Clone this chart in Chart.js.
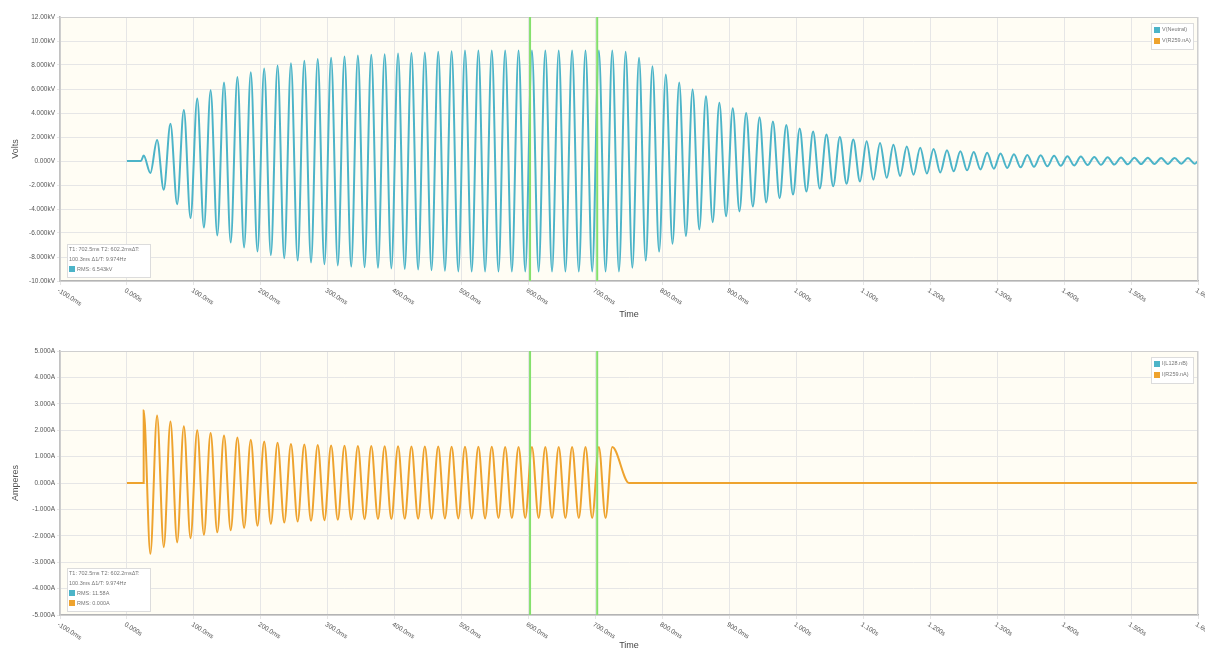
<!DOCTYPE html>
<html>
<head>
<meta charset="utf-8">
<script src="https://cdn.jsdelivr.net/npm/chart.js@4/dist/chart.umd.min.js"></script>
<style>
  html, body { margin: 0; padding: 0; background: #fff; overflow: hidden; }
  canvas { position: absolute; left: 0; }
</style>
</head>
<body>
<canvas id="voltChart" width="1205" height="330" style="top:0"></canvas>
<canvas id="ampChart" width="1205" height="330" style="top:334px"></canvas>
<script>
// axis labels
const timeTickLabels = ['-100.0ms', '0.000s', '100.0ms', '200.0ms', '300.0ms', '400.0ms', '500.0ms', '600.0ms',
    '700.0ms', '800.0ms', '900.0ms', '1.000s', '1.100s', '1.200s', '1.300s', '1.400s', '1.500s', '1.600s'];
const voltTickLabels = ['-10.00kV', '-8.000kV', '-6.000kV', '-4.000kV', '-2.000kV', '0.000V',
    '2.000kV', '4.000kV', '6.000kV', '8.000kV', '10.00kV', '12.00kV'];
const ampTickLabels = ['-5.000A', '-4.000A', '-3.000A', '-2.000A', '-1.000A', '0.000A',
    '1.000A', '2.000A', '3.000A', '4.000A', '5.000A'];

// times (ms) of each peak / trough of the waveforms
const extremaMs = [
    25, 35, 45, 55, 65, 75, 85, 95, 105, 115, 125, 135, 145, 155, 165, 175,
    185, 195, 205, 215, 225, 235, 245, 255, 265, 275, 285, 295, 305, 315, 325, 335,
    345, 355, 365, 375, 385, 395, 405, 415, 425, 435, 445, 455, 465, 475, 485, 495,
    505, 515, 525, 535, 545, 555, 565, 575, 585, 595, 605, 615, 625, 635, 645, 655,
    665, 675, 685, 695, 705, 715, 725, 735, 745, 755, 765, 775, 785, 795, 805, 815,
    825, 835, 845, 855, 865, 875, 885, 895, 905, 915, 925, 935, 945, 955, 965, 975,
    985, 995, 1005, 1015, 1025, 1035, 1045, 1055, 1065, 1075, 1085, 1095, 1105, 1115, 1125, 1135,
    1145, 1155, 1165, 1175, 1185, 1195, 1205, 1215, 1225, 1235, 1245, 1255, 1265, 1275, 1285, 1295,
    1305, 1315, 1325, 1335, 1345, 1355, 1365, 1375, 1385, 1395, 1405, 1415, 1425, 1435, 1445, 1455,
    1465, 1475, 1485, 1495, 1505, 1515, 1525, 1535, 1545, 1555, 1565, 1575, 1585, 1595
];

// V(Neutral) in kV, peak / trough pairs
const neutralKV = [
    0.45, -1.0, 1.75, -2.4, 3.1, -3.6, 4.25, -4.75, 5.2, -5.55, 5.9, -6.2, 6.55, -6.8, 7.0, -7.2,
    7.4, -7.55, 7.7, -7.85, 7.95, -8.1, 8.15, -8.3, 8.35, -8.45, 8.5, -8.6, 8.6, -8.7, 8.7, -8.8,
    8.8, -8.85, 8.85, -8.9, 8.9, -8.95, 8.95, -9.0, 9.0, -9.05, 9.05, -9.1, 9.1, -9.15, 9.15, -9.2,
    9.2, -9.2, 9.2, -9.2, 9.2, -9.2, 9.2, -9.2, 9.2, -9.2, 9.2, -9.2,
    9.2, -9.2, 9.2, -9.2, 9.2, -9.2, 9.2, -9.2, 9.2, -9.2, 9.2, -9.2,
    9.1, -8.9, 8.6, -8.3, 7.9, -7.55, 7.2, -6.9, 6.55, -6.25, 5.95, -5.7, 5.4, -5.1, 4.85, -4.6, 4.4, -4.2, 4.0, -3.8,
    3.65, -3.45, 3.3, -3.1, 3.0, -2.8, 2.7, -2.55, 2.45, -2.3, 2.2, -2.1, 2.0, -1.9, 1.8, -1.7, 1.65, -1.55, 1.5, -1.4,
    1.35, -1.25, 1.2, -1.15, 1.1, -1.05, 1.0, -0.95, 0.9, -0.85, 0.82, -0.78, 0.75, -0.7, 0.68, -0.64, 0.62, -0.58, 0.56, -0.53,
    0.51, -0.48, 0.47, -0.44, 0.43, -0.4, 0.4, -0.37, 0.37, -0.34, 0.34, -0.32, 0.32, -0.3, 0.3, -0.28, 0.28, -0.26, 0.27, -0.25,
    0.26, -0.24, 0.25, -0.23, 0.24, -0.22
];

// I(R259.nA) in A, peak / trough pairs until the breaker opens
const r259Amps = [
    2.75, -2.68, 2.56, -2.43, 2.33, -2.25, 2.15, -2.09, 2.0, -1.96, 1.89, -1.87, 1.8, -1.79, 1.72, -1.7,
    1.64, -1.62, 1.57, -1.55, 1.52, -1.5, 1.48, -1.46, 1.46, -1.43, 1.44, -1.41, 1.42, -1.39, 1.41, -1.38,
    1.4, -1.37, 1.4, -1.36, 1.39, -1.36, 1.39, -1.35, 1.38, -1.35, 1.38, -1.35, 1.38, -1.34, 1.37, -1.34,
    1.37, -1.34, 1.37, -1.34, 1.37, -1.33, 1.36, -1.33, 1.36, -1.33, 1.36, -1.33, 1.36, -1.33, 1.36, -1.33,
    1.36, -1.33, 1.36, -1.33, 1.36, -1.33, 1.36
];

const cursorsMs = [602.2, 702.5];
const cursorInfo = ['T1: 702.5ms T2: 602.2ms\u0394T:', '100.3ms \u03941/T: 9.974Hz'];

const CYAN = '#4cb4c8';
const ORANGE = '#eea32e';
const FONT = "'Liberation Sans', Arial, sans-serif";

function toPoints(times, values) {
    return times.map((t, i) => ({ x: t, y: values[i] }));
}

const voltPoints = [{ x: 0, y: 0 }, { x: 21, y: 0 }]
    .concat(toPoints(extremaMs, neutralKV), [{ x: 1600, y: 0 }]);
const ampPoints = [{ x: 0, y: 0 }, { x: 25, y: 0 }]
    .concat(toPoints(extremaMs.slice(0, r259Amps.length), r259Amps), [{ x: 750, y: 0 }, { x: 1600, y: 0 }]);

function overlay(legend, rms) {
    return {
        id: 'overlay',
        beforeDraw(chart) {
            const { ctx, chartArea: a } = chart;
            ctx.save();
            ctx.fillStyle = '#fffdf4';
            ctx.fillRect(a.left, a.top, a.right - a.left, a.bottom - a.top);
            ctx.restore();
        },
        afterDatasetsDraw(chart) {
            const { ctx, chartArea: a, scales: { x } } = chart;
            ctx.save();
            ctx.strokeStyle = '#cfcfcf';
            ctx.lineWidth = 1;
            ctx.strokeRect(a.left, a.top + 0.5, a.right - a.left - 0.5, a.bottom - a.top);
            // cursors
            ctx.strokeStyle = '#84e06c';
            ctx.lineWidth = 2;
            cursorsMs.forEach(t => {
                const px = x.getPixelForValue(t);
                ctx.beginPath();
                ctx.moveTo(px, a.top);
                ctx.lineTo(px, a.bottom);
                ctx.stroke();
            });
            ctx.restore();
        },
        afterDraw(chart) {
            const { ctx, chartArea: a, scales: { x } } = chart;
            ctx.save();
            // slanted time labels
            ctx.fillStyle = '#555';
            ctx.font = '6.5px ' + FONT;
            ctx.textAlign = 'left';
            ctx.textBaseline = 'middle';
            x.ticks.forEach((tk, i) => {
                ctx.save();
                ctx.translate(x.getPixelForValue(tk.value) - 2, a.bottom + 9);
                ctx.rotate(32 * Math.PI / 180);
                ctx.fillText(timeTickLabels[i], 0, 0);
                ctx.restore();
            });

            // legend, top right
            ctx.font = '5.5px ' + FONT;
            const lx = a.right - 47, ly = a.top + 6;
            ctx.fillStyle = '#fff';
            ctx.fillRect(lx, ly, 42, 26);
            ctx.strokeStyle = '#dcdcdc';
            ctx.lineWidth = 1;
            ctx.strokeRect(lx + 0.5, ly + 0.5, 42, 26);
            legend.forEach((item, i) => {
                ctx.fillStyle = item.color;
                ctx.fillRect(lx + 3, ly + 4 + i * 11, 6, 6);
                ctx.fillStyle = '#777';
                ctx.fillText(item.label, lx + 11, ly + 6 + i * 11);
            });

            // cursor info box, bottom left
            const lines = cursorInfo.length + rms.length;
            const bh = lines * 10 + 3;
            const bx = a.left + 7, by = a.bottom - 4 - bh;
            ctx.fillStyle = '#fff';
            ctx.fillRect(bx, by, 83, bh);
            ctx.strokeStyle = '#dcdcdc';
            ctx.strokeRect(bx + 0.5, by + 0.5, 83, bh);
            ctx.fillStyle = '#777';
            cursorInfo.forEach((txt, i) => ctx.fillText(txt, bx + 2, by + 5 + i * 10));
            rms.forEach((item, i) => {
                const cy = by + 5 + (cursorInfo.length + i) * 10;
                ctx.fillStyle = item.color;
                ctx.fillRect(bx + 2, cy - 3, 6, 6);
                ctx.fillStyle = '#777';
                ctx.fillText(item.text, bx + 10, cy);
            });
            ctx.restore();
        }
    };
}

function waveChart(canvasId, cfg) {
    return new Chart(document.getElementById(canvasId), {
        type: 'line',
        data: { datasets: cfg.datasets },
        options: {
            responsive: false,
            animation: false,
            layout: { padding: { top: 17, right: 7, left: 0, bottom: 0 } },
            plugins: { legend: { display: false }, tooltip: { enabled: false } },
            elements: {
                point: { radius: 0 },
                line: { borderWidth: 2, cubicInterpolationMode: 'monotone' }
            },
            scales: {
                x: {
                    type: 'linear', min: -100, max: 1600,
                    ticks: { stepSize: 100, display: false },
                    grid: { color: '#e6e6e6', tickLength: 4 },
                    border: { color: '#b4b4b4', width: 1.5 },
                    title: {
                        display: true, text: 'Time', color: '#444',
                        font: { family: FONT, size: 9 }, padding: { top: 0, bottom: cfg.timePad }
                    },
                    afterFit: s => { s.height = 49; }
                },
                y: {
                    min: cfg.min, max: cfg.max,
                    ticks: {
                        stepSize: cfg.step, color: '#555', padding: 2,
                        font: { family: FONT, size: 6.5 },
                        callback: (v, i) => cfg.tickLabels[i]
                    },
                    grid: { color: '#e6e6e6', tickLength: 3 },
                    border: { color: '#b4b4b4', width: 1.5 },
                    title: {
                        display: true, text: cfg.title, color: '#555',
                        font: { family: FONT, size: 9 }, padding: { top: 10, bottom: 0 }
                    },
                    afterFit: s => { s.width = 60; }
                }
            }
        },
        plugins: [overlay(cfg.legend, cfg.rms)]
    });
}

waveChart('voltChart', {
    min: -10, max: 12, step: 2, title: 'Volts', tickLabels: voltTickLabels, timePad: 10,
    datasets: [{ label: 'V(Neutral)', data: voltPoints, borderColor: CYAN }],
    legend: [{ label: 'V(Neutral)', color: CYAN }, { label: 'V(R259.nA)', color: ORANGE }],
    rms: [{ text: 'RMS: 6.543kV', color: CYAN }]
});

waveChart('ampChart', {
    min: -5, max: 5, step: 1, title: 'Amperes', tickLabels: ampTickLabels, timePad: 13,
    datasets: [{ label: 'I(R259.nA)', data: ampPoints, borderColor: ORANGE }],
    legend: [{ label: 'I(L128.nB)', color: CYAN }, { label: 'I(R259.nA)', color: ORANGE }],
    rms: [{ text: 'RMS: 11.58A', color: CYAN }, { text: 'RMS: 0.000A', color: ORANGE }]
});
</script>
</body>
</html>
